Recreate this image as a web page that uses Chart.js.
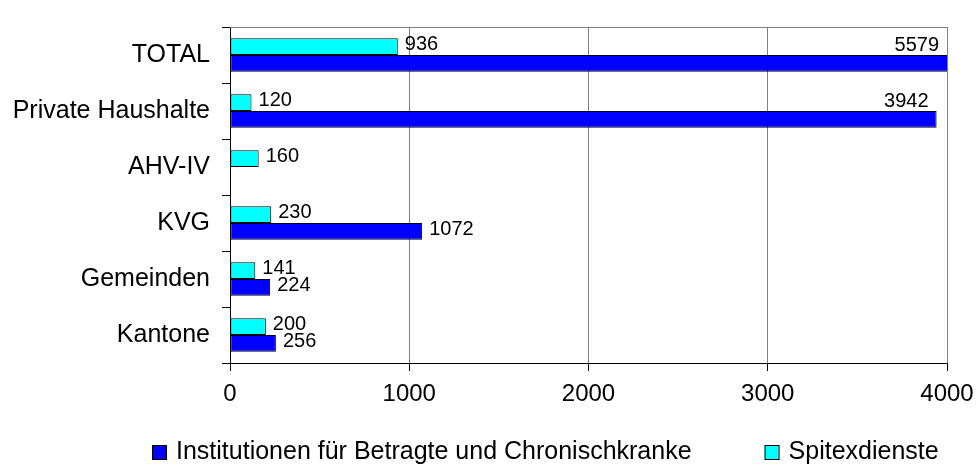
<!DOCTYPE html>
<html>
<head>
<meta charset="utf-8">
<script src="https://cdn.jsdelivr.net/npm/chart.js@4"></script>
<style>
  html, body { margin: 0; padding: 0; background: #fff; }
</style>
</head>
<body>
<canvas id="myChart" width="978" height="473"></canvas>
<script>
const categories = ["TOTAL", "Private Haushalte", "AHV-IV", "KVG", "Gemeinden", "Kantone"];
const spitexValues = [936, 120, 160, 230, 141, 200];
const institutionValues = [5579, 3942, null, 1072, 224, 256];
const xTicks = [0, 1000, 2000, 3000, 4000];
const spitexName = "Spitexdienste";
const institutionName = "Institutionen für Betragte und Chronischkranke";

const FONT = '"Liberation Sans", Arial, sans-serif';

// value labels next to bar ends; labels that would leave the plot go above the bar
const valueLabels = {
  id: "valueLabels",
  afterDatasetsDraw(chart) {
    const { ctx, chartArea } = chart;
    ctx.save();
    ctx.font = "20px " + FONT;
    ctx.fillStyle = "#000";
    ctx.textBaseline = "middle";
    chart.data.datasets.forEach((ds, di) => {
      chart.getDatasetMeta(di).data.forEach((bar, i) => {
        const v = ds.data[i];
        if (v == null) return;
        const txt = String(v);
        const w = ctx.measureText(txt).width;
        const endX = Math.min(bar.x, chartArea.right);
        if (endX + 7 + w > chartArea.right) {
          ctx.textAlign = "right";
          ctx.fillText(txt, endX - 8, bar.y - bar.height - 1);
        } else {
          ctx.textAlign = "left";
          ctx.fillText(txt, endX + 7, bar.y - 2);
        }
      });
    });
    ctx.restore();
  },
};

// gray frame line on top of the plot area
const plotFrame = {
  id: "plotFrame",
  beforeDatasetsDraw(chart) {
    const { ctx, chartArea } = chart;
    ctx.save();
    ctx.strokeStyle = "#808080";
    ctx.lineWidth = 1;
    ctx.beginPath();
    ctx.moveTo(chartArea.left, chartArea.top + 0.5);
    ctx.lineTo(chartArea.right, chartArea.top + 0.5);
    ctx.stroke();
    ctx.restore();
  },
};

// legend drawn by hand so the spacing matches the original
const bottomLegend = {
  id: "bottomLegend",
  afterDraw(chart) {
    const { ctx } = chart;
    const items = chart.data.datasets.slice().reverse();
    let x = 152;
    const y = 452;
    ctx.save();
    ctx.font = "25px " + FONT;
    ctx.textBaseline = "middle";
    ctx.textAlign = "left";
    items.forEach((ds) => {
      ctx.fillStyle = ds.backgroundColor;
      ctx.fillRect(x, y - 7, 14, 14);
      ctx.strokeStyle = "#000";
      ctx.lineWidth = 1;
      ctx.strokeRect(x + 0.5, y - 6.5, 14, 14);
      ctx.fillStyle = "#000";
      ctx.fillText(ds.label, x + 24, y);
      x += 24 + ctx.measureText(ds.label).width + 73;
    });
    ctx.restore();
  },
};

const ctx = document.getElementById("myChart").getContext("2d");
new Chart(ctx, {
  type: "bar",
  data: {
    labels: categories,
    datasets: [
      {
        label: spitexName,
        data: spitexValues,
        backgroundColor: "#00FFFF",
        borderColor: "#000",
        borderWidth: 1,
        borderSkipped: false,
      },
      {
        label: institutionName,
        data: institutionValues,
        backgroundColor: "#0000FF",
        borderColor: "#000",
        borderWidth: 1,
        borderSkipped: false,
      },
    ],
  },
  options: {
    indexAxis: "y",
    responsive: false,
    animation: false,
    layout: { padding: { top: 15, right: 31, bottom: 60, left: 0 } },
    datasets: { bar: { categoryPercentage: 0.6, barPercentage: 1 } },
    plugins: {
      legend: { display: false },
      tooltip: { enabled: false },
    },
    scales: {
      x: {
        min: xTicks[0],
        max: xTicks[xTicks.length - 1],
        ticks: {
          stepSize: xTicks[1] - xTicks[0],
          callback: (v) => String(v),
          color: "#000",
          font: { size: 24, family: FONT },
          padding: 9,
          maxRotation: 0,
        },
        grid: { color: "#808080", tickColor: "#000", tickLength: 8, lineWidth: 1 },
        border: { color: "#000", width: 1 },
        afterFit(s) {
          s.height = 50;
          s.paddingRight = 0;
        },
      },
      y: {
        ticks: { color: "#000", font: { size: 25, family: FONT }, padding: 12 },
        grid: { drawOnChartArea: false, tickLength: 8, color: "#000" },
        border: { color: "#000", width: 1 },
        afterFit(s) { s.width = 230; },
      },
    },
  },
  plugins: [plotFrame, valueLabels, bottomLegend],
});
</script>
</body>
</html>
